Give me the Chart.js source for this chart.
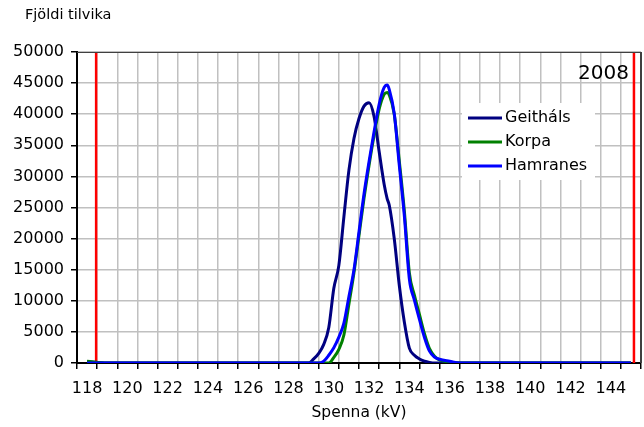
<!DOCTYPE html>
<html>
<head>
<meta charset="utf-8">
<script src="https://cdn.jsdelivr.net/npm/chart.js@4/dist/chart.umd.min.js"></script>
<style>
  html, body { margin: 0; padding: 0; background: #fff; }
  #wrap { width: 644px; height: 427px; }
</style>
</head>
<body>
<div id="wrap"><canvas id="chart" width="644" height="427"></canvas></div>
<script>
// spenna (kV) og fjöldi tilvika fyrir hverja stöð
const voltage = [118, 119, 128.75, 129, 129.25, 129.5, 129.75, 130, 130.25, 130.5, 130.75, 131, 131.25, 131.5, 131.75, 132, 132.25, 132.5, 132.75, 132.9, 133, 133.25, 133.5, 133.75, 134, 134.25, 134.5, 134.75, 135, 135.25, 135.5, 136, 136.5, 137, 145];
const geithals = [200, 0, 0, 0, 650, 1550, 3000, 5700, 12000, 15700, 23500, 31000, 36100, 39300, 41300, 41850, 39600, 34000, 28700, 26400, 25400, 20000, 12500, 6600, 2400, 1250, 650, 300, 100, 0, 0, 0, 0, 0, 0];
const korpa = [300, 0, 0, 0, 0, 0, 0, 0, 900, 2200, 4500, 9500, 14500, 20500, 26500, 31800, 36600, 40800, 43200, 43500, 43100, 40000, 32500, 24500, 14500, 10900, 7800, 4700, 2300, 1100, 500, 150, 0, 0, 0];
const hamranes = [0, 0, 0, 0, 0, 0, 300, 1250, 2450, 4150, 6400, 10700, 15000, 21100, 27200, 32400, 37200, 41600, 44300, 44700, 44000, 40100, 31800, 23700, 13500, 10100, 7000, 4100, 1900, 950, 600, 280, 0, 0, 0];
const seriesNames = ["Geitháls", "Korpa", "Hamranes"];
const seriesColors = ["#000080", "#008000", "#0000ff"];
const limits = [118.45, 145.15];
const yTicks = { min: 0, max: 50000, step: 5000 };
const xRange = { min: 117.5, max: 145.5 };
const yearLabel = "2008";

const FONT = "DejaVu Sans";

function toPoints(values) {
  return voltage.map((v, i) => ({ x: v, y: values[i] }));
}

const lineSets = [geithals, korpa, hamranes].map((vals, i) => ({
  label: seriesNames[i],
  data: toPoints(vals),
  borderColor: seriesColors[i],
  backgroundColor: seriesColors[i],
  borderWidth: 3,
  pointRadius: 0,
  cubicInterpolationMode: "monotone",
  order: 3 - i,
}));

const limitSets = limits.map(v => ({
  label: "mörk",
  data: [{ x: v, y: yTicks.min }, { x: v, y: yTicks.max }],
  borderColor: "#ff0000",
  borderWidth: 2.5,
  pointRadius: 0,
  order: 5,
}));

// texti og skýringar teiknaðar ofan á
const extras = {
  id: "extras",
  afterDatasetsDraw(chart) {
    const ctx = chart.ctx;
    const a = chart.chartArea;
    ctx.save();
    // rammi efst og til hægri
    ctx.strokeStyle = "#404040";
    ctx.lineWidth = 1;
    ctx.beginPath();
    ctx.moveTo(a.left, a.top + 0.5);
    ctx.lineTo(a.right, a.top + 0.5);
    ctx.stroke();
    ctx.lineWidth = 2;
    ctx.beginPath();
    ctx.moveTo(a.right, a.top);
    ctx.lineTo(a.right, a.bottom);
    ctx.stroke();

    // skýringar
    ctx.fillStyle = "#fff";
    ctx.fillRect(462, 103, 133, 77);
    ctx.font = "16px '" + FONT + "'";
    ctx.textBaseline = "middle";
    ctx.textAlign = "left";
    seriesNames.forEach((name, i) => {
      const y = 118 + i * 24;
      ctx.strokeStyle = seriesColors[i];
      ctx.lineWidth = 3;
      ctx.beginPath();
      ctx.moveTo(468, y);
      ctx.lineTo(502, y);
      ctx.stroke();
      ctx.fillStyle = "#000";
      ctx.fillText(name, 505, y);
    });

    ctx.font = "20px '" + FONT + "'";
    ctx.textAlign = "right";
    ctx.fillText(yearLabel, 629, 74);

    ctx.font = "14.5px '" + FONT + "'";
    ctx.textAlign = "left";
    ctx.fillText("Fjöldi tilvika", 25, 15);
    ctx.restore();
  }
};

new Chart(document.getElementById("chart"), {
  type: "line",
  data: { datasets: [...lineSets, ...limitSets] },
  plugins: [extras],
  options: {
    responsive: false,
    animation: false,
    layout: { padding: { top: 52, right: 3, left: 0, bottom: 0 } },
    plugins: { legend: { display: false }, tooltip: { enabled: false } },
    scales: {
      x: {
        type: "linear",
        min: xRange.min,
        max: xRange.max,
        afterFit: s => { s.height = 64; s.paddingLeft = 0; s.paddingRight = 0; },
        border: { color: "#000", width: 2 },
        grid: {
          color: c => (c.tick && c.tick.value % 1 !== 0 ? "#c0c0c0" : "rgba(0,0,0,0)"),
          tickColor: c => (c.tick && c.tick.value % 1 !== 0 ? "#000" : "rgba(0,0,0,0)"),
          lineWidth: 1.5,
          tickLength: 6,
        },
        ticks: {
          stepSize: 0.5,
          autoSkip: false,
          maxRotation: 0,
          padding: 10,
          color: "#000",
          font: { family: FONT, size: 16 },
          callback: v => (v % 2 === 0 ? String(v) : ""),
        },
        title: {
          display: true,
          text: "Spenna (kV)",
          color: "#000",
          font: { family: FONT, size: 15.5 },
          padding: { top: 4, bottom: 5 },
        },
      },
      y: {
        min: yTicks.min,
        max: yTicks.max,
        afterFit: s => { s.width = 77; },
        border: { color: "#000", width: 2 },
        grid: { color: "#c0c0c0", lineWidth: 1.5, tickLength: 6, tickColor: "#000" },
        ticks: {
          stepSize: yTicks.step,
          padding: 7,
          color: "#000",
          font: { family: FONT, size: 16 },
          callback: v => String(v),
        },
      },
    },
  },
});
</script>
</body>
</html>
